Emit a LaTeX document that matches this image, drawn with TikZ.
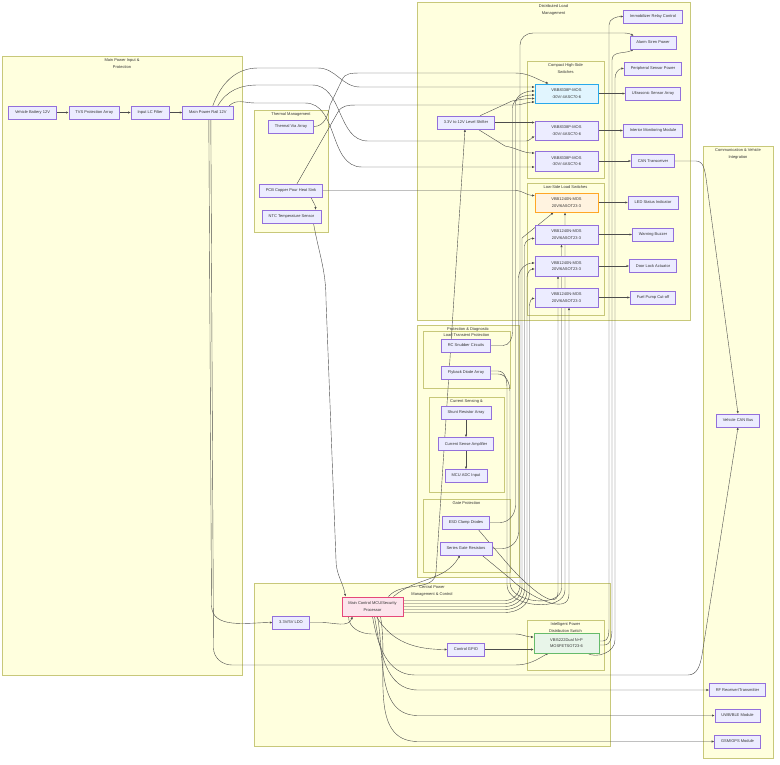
\documentclass[tikz,border=0pt]{standalone}
\usepackage{fontspec}
\setmainfont{Liberation Sans}
\usetikzlibrary{arrows.meta,positioning}
\definecolor{mmBox}{HTML}{ECECFF}
\definecolor{mmBoxLine}{HTML}{9370DB}
\definecolor{mmGroup}{HTML}{FFFFDE}
\definecolor{mmGroupLine}{HTML}{C8C87A}
\definecolor{mmInk}{HTML}{333333}
\definecolor{mmWire}{HTML}{4D4D4D}
\definecolor{hsFill}{HTML}{E1F5FE}
\definecolor{hsLine}{HTML}{29A9EB}
\definecolor{lsFill}{HTML}{FFF3E0}
\definecolor{lsLine}{HTML}{FFA726}
\definecolor{mcuFill}{HTML}{FCE4EC}
\definecolor{mcuLine}{HTML}{E5487A}
\definecolor{dualFill}{HTML}{E8F5E9}
\definecolor{dualLine}{HTML}{66BB6A}
\pgfdeclarelayer{groups}
\pgfdeclarelayer{wires}
\pgfsetlayers{groups,wires,main}
\tikzset{
  blk/.style={draw=mmBoxLine,fill=mmBox,line width=0.5pt,minimum height=13pt,
    inner xsep=6.5pt,inner ysep=1pt,align=center,text=mmInk,
    font=\fontsize{4}{6.5}\selectfont},
  swbox/.style={blk,minimum width=63pt,minimum height=19.5pt},
  hsbox/.style={swbox,fill=hsFill,draw=hsLine},
  lsbox/.style={swbox,fill=lsFill,draw=lsLine},
  link/.style={draw=mmWire,line width=0.4pt,-{Latex[length=2.6pt,width=2.2pt]}},
  grp/.style={draw=mmGroupLine,fill=mmGroup,line width=0.5pt},
  grptitle/.style={anchor=north,inner sep=0pt,align=center,text=mmInk,
    font=\fontsize{4}{6.5}\selectfont},
}
\newcommand{\drawgroup}[6]{%
  \draw[grp] (#1,#2) rectangle (#3,#4);
  \node[grptitle] (#5) at ({(#1+#3)/2},{#2+2.5}) {#6};
}

\begin{document}
\begin{tikzpicture}[x=1pt,y=-1pt]
  \useasboundingbox (0,0) rectangle (780,764);

  \begin{pgfonlayer}{groups}
    \fill[white] (0,0) rectangle (780,764);
    \drawgroup{2}{56}{242}{675}{gMain}{Main Power Input \&\\Protection}
    \drawgroup{254}{110}{328}{232}{gThermal}{Thermal Management}
    \drawgroup{417}{2}{690}{320}{gLoad}{Distributed Load\\Management}
    \drawgroup{527}{61}{604}{178}{gHigh}{Compact High-Side\\Switches}
    \drawgroup{527}{183}{604}{315}{gLow}{Low-Side Load Switches}
    \drawgroup{417}{325}{519}{577}{gProt}{Protection \& Diagnostic}
    \drawgroup{423}{331}{510}{388}{gTrans}{Load Transient Protection}
    \drawgroup{429}{397}{504}{492}{gSense}{Current Sensing \&\\Monitoring}
    \drawgroup{423}{499}{510}{572}{gGate}{Gate Protection}
    \drawgroup{254}{583}{610}{746}{gCtrl}{Central Power\\Management \& Control}
    \drawgroup{527}{620}{604}{670}{gDist}{Intelligent Power\\Distribution Switch}
    \drawgroup{703}{146}{773}{758}{gComm}{Communication \& Vehicle\\Integration}
  \end{pgfonlayer}

  % power input chain
  \node[blk] (bat) at (32.5,112.5) {Vehicle Battery 12V};
  \node[blk,right=12pt of bat] (tvs) {TVS Protection Array};
  \node[blk,right=11pt of tvs] (lcf) {Input LC Filter};
  \node[blk,right=13pt of lcf] (rail) {Main Power Rail 12V};

  % thermal
  \node[blk] (thv) at (291,126.5) {Thermal Via Array};
  \node[blk] (pcb) at (291,190.5) {PCB Copper Pour Heat Sink};
  \node[blk] (ntc) at (291.5,216.5) {NTC Temperature Sensor};

  % control
  \node[blk] (ldo) at (291,622.5) {3.3V/5V LDO};
  \node[blk,minimum height=19.5pt,fill=mcuFill,draw=mcuLine] (mcu) at (372.5,606.5) {Main Control MCU/Security\\Processor};
  \node[blk] (gpio) at (466,649.5) {Control GPIO};
  \node[swbox,minimum width=65pt,fill=dualFill,draw=dualLine] (dual) at (566.5,643) {VBI5222Dual N+P\\MOSFETSOT23-6};

  % switches
  \node[blk] (shifter) at (466,122.5) {3.3V to 12V Level Shifter};
  \node[hsbox] (hs1) at (566.5,93.5) {VBB8338P-MOS\\-30V/-4ASC70-6};
  \foreach \i/\y in {2/130.5,3/161}
    \node[swbox] (hs\i) at (566.5,\y) {VBB8338P-MOS\\-30V/-4ASC70-6};
  \node[lsbox] (ls1) at (566.5,202.5) {VBB1240N-MOS\\20V/6ASOT23-3};
  \foreach \i/\y in {2/234.5,3/266,4/297.5}
    \node[swbox] (ls\i) at (566.5,\y) {VBB1240N-MOS\\20V/6ASOT23-3};

  % loads
  \foreach \n/\y/\t in {imm/16.5/Immobilizer Relay Control,%
alarm/42.5/Alarm Siren Power,%
periph/68.5/Peripheral Sensor Power,%
ultra/93.5/Ultrasonic Sensor Array,%
interior/130.5/Interior Monitoring Module,%
cantr/161/CAN Transceiver,%
led/202.5/LED Status Indicator,%
buzz/234.5/Warning Buzzer,%
door/266/Door Lock Actuator,%
fuel/297.5/Fuel Pump Cut-off}
    \node[blk] (\n) at (653,\y) {\t};

  % protection
  \node[blk] (rc) at (466,345.5) {RC Snubber Circuits};
  \node[blk] (fly) at (466,372.5) {Flyback Diode Array};
  \node[blk] (shunt) at (466,412.5) {Shunt Resistor Array};
  \node[blk,below=18pt of shunt] (amp) {Current Sense Amplifier};
  \node[blk,below=18.5pt of amp] (adc) {MCU ADC Input};
  \node[blk] (esd) at (466,522.5) {ESD Clamp Diodes};
  \node[blk] (series) at (466,548.5) {Series Gate Resistors};

  % communication
  \node[blk] (vcan) at (738,420.5) {Vehicle CAN Bus};
  \node[blk] (rf) at (737.5,690) {RF Receiver/Transmitter};
  \node[blk] (uwb) at (737.5,715.5) {UWB/BLE Module};
  \node[blk] (gsm) at (737.5,741.5) {GSM/GPS Module};

  \begin{pgfonlayer}{wires}
    \draw[link] (bat) -- (tvs);
    \draw[link] (tvs) -- (lcf);
    \draw[link] (lcf) -- (rail);
    % rail feeds
    \draw[link] ([xshift=5]rail.north) to[out=70,in=180] (258,68) -- (318,68) to[out=0,in=180] (360,87) -- ([yshift=6.5]hs1.west);
    \draw[link] ([xshift=10]rail.north) to[out=60,in=180] (258,85) -- (312,85) to[out=0,in=180] (368,141) -- (526,141) to[out=0,in=-160] ([yshift=-6]hs2.west);
    \draw[link] ([xshift=-4]rail.north east) to[out=45,in=180] (255,103) -- (305,103) to[out=0,in=180] (362,167) -- ([yshift=-6]hs3.west);
    \draw[link] ([xshift=1]rail.south) -- (211.5,605) to[out=-90,in=180] (ldo.west);
    \draw[link] ([xshift=3]rail.south) -- (213.5,648) to[out=-90,in=180] (232,665) -- (515,665) to[out=0,in=-150] ([xshift=-18]dual.south);
    % control
    \draw[link] (ldo.east) -- (322,622.5) to[out=0,in=-110] ([xshift=-20]mcu.south);
    \draw[link] ([xshift=4]mcu.south) to[out=-60,in=180] (gpio.west);
    \draw[link] (gpio.east) -- (gpio.east -| dual.west);
    \draw[link] ([xshift=-24]mcu.south) to[out=-90,in=180] (372,634) -- (515,634) to[out=0,in=180] ([yshift=6]dual.west);
    \draw[link] (mcu.south) to[out=-80,in=180] (415,675) -- (688,675) to[out=0,in=-100] (702,655) -- (vcan.south);
    \foreach \d/\dx/\yy in {rf/2/690,uwb/5/715.5,gsm/8/741.5}
      \draw[link] ([xshift=\dx]mcu.south) to[out=-80,in=180] (418,\yy) -- (\d.west);
    \draw[link] ([xshift=16]mcu.north) to[out=50,in=-94] (436,572) -- ([xshift=-1]shifter.south);
    \draw[link] ([xshift=-10]mcu.north east) to[out=40,in=-120] ([xshift=-6]series.south);
    \draw[link] ([yshift=6]mcu.east) -- (505,600.5) to[out=0,in=-90] (520,585) -- (520,45) to[out=90,in=180] (533,33) -- (618,33) to[out=0,in=150] ([xshift=4]alarm.north west);
    \draw[link] ([yshift=3]mcu.east) -- (505,603.5) to[out=0,in=-90] (522,587) -- (522,238) -- ([xshift=-13]ls1.south);
    \draw[link] (mcu.east) -- (505,606.5) to[out=0,in=-90] (524.5,589) -- (524.5,246) to[out=90,in=180] ([yshift=-4]ls2.west);
    \draw[link] ([yshift=-3]mcu.east) -- (505,609.5) to[out=0,in=-90] (527,591) -- (527,277) to[out=90,in=180] ([yshift=-3]ls3.west);
    \draw[link] ([yshift=-6]mcu.east) -- (505,612.5) to[out=0,in=-90] (529.5,593) -- (529.5,306) to[out=90,in=180] ([yshift=-1]ls4.west);
    % thermal
    \draw[link] (thv.east) to[out=0,in=-100] (330,105) -- (342,80) to[out=70,in=180] (360,73) -- (515,73) to[out=0,in=160] ([xshift=-18]hs1.north);
    \draw[link] ([xshift=6]pcb.north) -- (338,112) to[out=60,in=180] (356,105) -- (515,105) to[out=0,in=180] ([yshift=-8.5]hs1.west);
    \draw[link] (pcb.east) -- (515,190.5) to[out=0,in=180] ([yshift=7]ls1.west);
    \draw[link] ([xshift=20]pcb.south) to[out=-70,in=90] ([xshift=24]ntc.north);
    \draw[link] ([xshift=22]ntc.south) to[out=-80,in=90] (326,300) -- (336,560) to[out=-90,in=100] ([xshift=-27]mcu.north);
    % level shifter to high side
    \draw[link] ([xshift=14]shifter.north) -- (512,101) to[out=10,in=180] ([yshift=-5]hs1.west);
    \draw[link] (shifter.east) -- (shifter.east -| hs2.west);
    \draw[link] ([xshift=12]shifter.south) -- (505,146) to[out=-10,in=180] ([yshift=8]hs3.west);
    % protection
    \draw[link] (rc.east) -- (503,345.5) to[out=0,in=-90] (512.5,332) -- (512.5,108) to[out=90,in=180] ([yshift=-1.5]hs1.west);
    \draw[link] (esd.east) -- (500,522.5) to[out=0,in=-90] (515.5,505) -- (515.5,104) to[out=90,in=180] ([yshift=2.5]hs1.west);
    \draw[link] (series.east) -- (502,548.5) to[out=0,in=-90] (518.5,532) -- (518.5,278) to[out=90,in=180] ([yshift=3]ls3.west);
    \draw[link] ([yshift=1.5]fly.east) -- (498,371) to[out=0,in=90] (507,388) -- (507,585) to[out=-90,in=-90] (565,590) -- ([xshift=-1.5]ls1.south);
    \draw[link] ([yshift=-1.5]fly.east) -- (498,374) to[out=0,in=90] (510,392) -- (510,583) to[out=-90,in=-90] (561.5,588) -- ([xshift=-5]ls2.south);
    \draw[link] ([xshift=12]esd.south) -- (506,562) to[out=-50,in=-90] (558,592) -- ([xshift=-8.5]ls3.south);
    \draw[link] ([xshift=16]series.south) -- (512,580) to[out=-45,in=-90] (569,594) -- ([xshift=2.5]ls4.south);
    \draw[link] (shunt) -- (amp);
    \draw[link] (amp) -- (adc);
    % switch outputs
    \draw[link] (hs1) -- (ultra);
    \draw[link] (hs2) -- (interior);
    \draw[link] (hs3) -- (cantr);
    \draw[link] (ls1) -- (led);
    \draw[link] (ls2) -- (buzz);
    \draw[link] (ls3) -- (door);
    \draw[link] (ls4) -- (fuel);
    \draw[link] ([yshift=2]dual.east) -- (603,641) to[out=0,in=-90] (609,628) -- (609,25) to[out=90,in=180] (imm.west);
    \draw[link] ([yshift=-2]dual.east) -- (604,645) to[out=0,in=-90] (612,628) -- (612,60) to[out=90,in=-150] ([xshift=4]alarm.south west);
    \draw[link] ([xshift=20]dual.south) to[out=-30,in=-90] (615,640) -- (615,78) to[out=90,in=180] (periph.west);
    \draw[link] (cantr.east) -- (696,161) to[out=0,in=100] (706,178) -- (vcan.north);
  \end{pgfonlayer}
\end{tikzpicture}
\end{document}
